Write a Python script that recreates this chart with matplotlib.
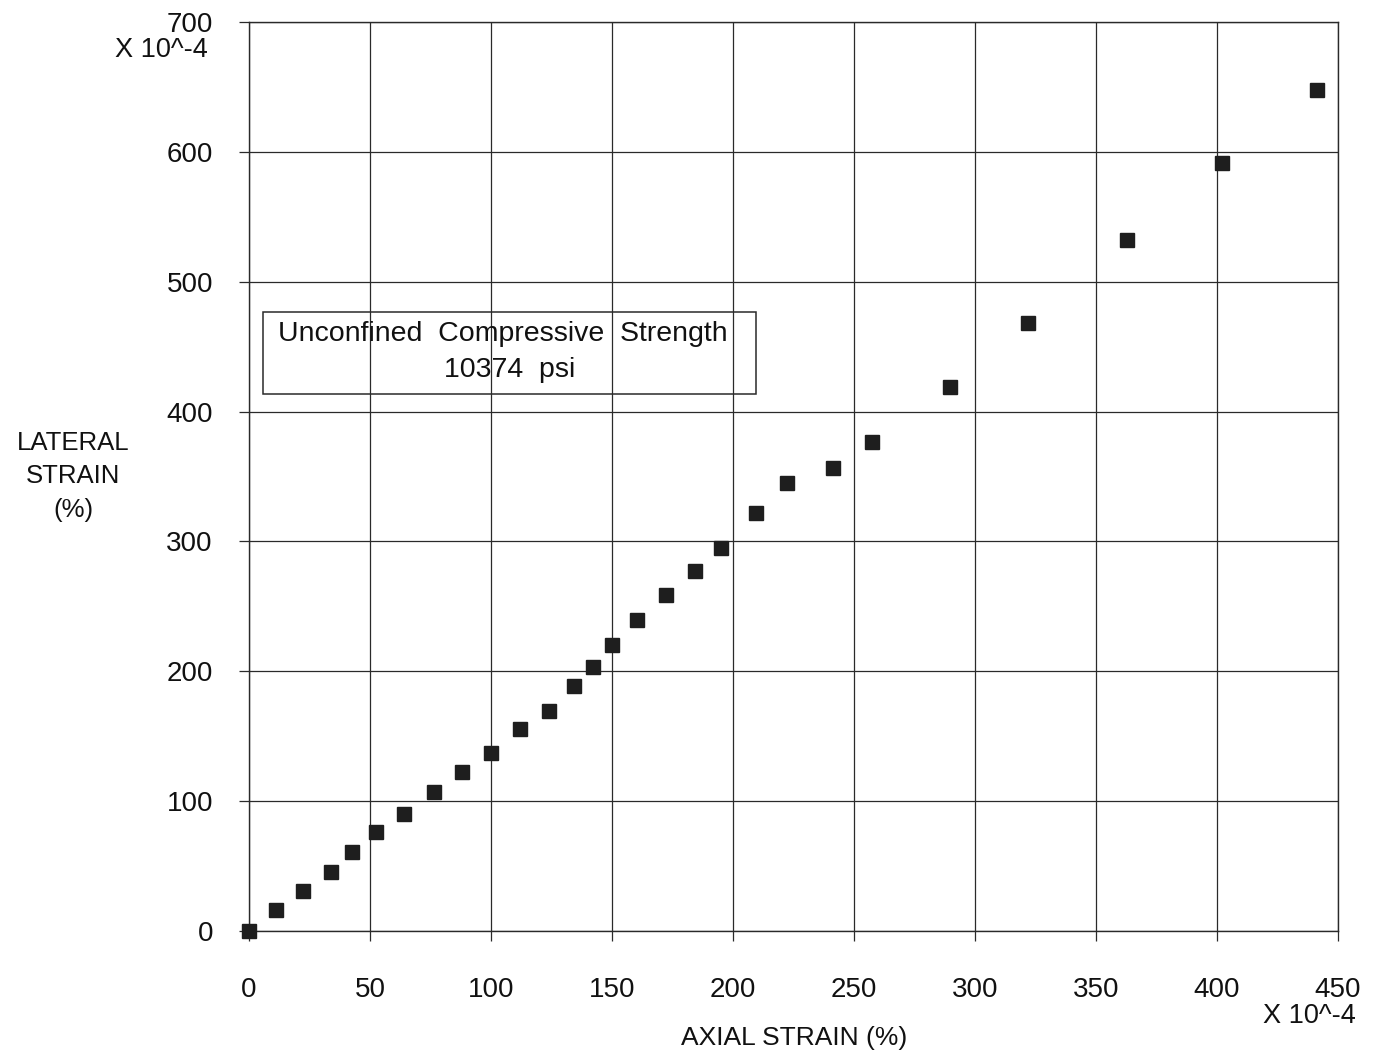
import matplotlib
matplotlib.use("Agg")
import matplotlib.pyplot as plt
from matplotlib.patches import Rectangle

plt.rcParams['font.family'] = ['Liberation Sans', 'DejaVu Sans']

# Axial and lateral strain readings (x 10^-4)
axial_strain = [0, 11.1, 22.4, 33.7, 42.7, 52.6, 63.9, 76.3, 88.1, 100.0,
                112.1, 124.1, 134.2, 142.2, 150.2, 160.2, 172.2, 184.3, 195.1,
                209.5, 222.5, 241.5, 257.6, 289.7, 321.9, 362.8, 402.1, 441.3]
lateral_strain = [0, 16.4, 30.5, 45.4, 60.5, 76.2, 89.8, 106.9, 122.1, 136.9,
                  155.2, 169.2, 188.8, 203.6, 220.3, 239.8, 259.0, 276.9, 294.9,
                  322.1, 344.9, 356.7, 376.2, 419.0, 468.5, 532.5, 591.5, 647.5]

x_ticks = [0, 50, 100, 150, 200, 250, 300, 350, 400, 450]
y_ticks = [0, 100, 200, 300, 400, 500, 600, 700]
ucs_line1 = "Unconfined  Compressive  Strength"
ucs_line2 = "10374  psi"

W, H = 1382, 1057
fig = plt.figure(figsize=(W / 100, H / 100), dpi=100)
ax = fig.add_axes([249 / W, 1 - 931 / H, (1338 - 249) / W, (931 - 22) / H])

ax.plot(axial_strain, lateral_strain, linestyle='none', marker='s',
        markersize=10, color='#1e1e1e', clip_on=False, zorder=5)

ax.set_xlim(0, 450)
ax.set_ylim(0, 700)
ax.set_xticks(x_ticks)
ax.set_yticks(y_ticks)
ax.set_xticklabels([str(v) for v in x_ticks])
ax.set_yticklabels([str(v) for v in y_ticks])
ax.grid(True, color='#2a2a2a', linewidth=0.9)
ax.set_axisbelow(True)
for s in ax.spines.values():
    s.set_color('#2a2a2a')
    s.set_linewidth(1.0)
ax.tick_params(axis='both', direction='out', length=7, width=0.9,
               color='#2a2a2a', labelsize=20, labelcolor='#111111')
ax.tick_params(axis='x', pad=26)
ax.tick_params(axis='y', pad=19)

# Strength annotation box
ax.add_patch(Rectangle((5.8, 413.7), 203.9, 63.2, fill=False,
                       edgecolor='#2a2a2a', linewidth=1.1, zorder=4))
ax.text(104.9, 459.5, ucs_line1, ha='center', va='center', fontsize=20.5,
        color='#111111', zorder=6)
ax.text(107.6, 432, ucs_line2, ha='center', va='center', fontsize=20.5,
        color='#111111', zorder=6)

# Axis titles and multipliers
fig.text(73 / W, 1 - 476 / H, "LATERAL\nSTRAIN\n(%)", ha='center', va='center',
         fontsize=18.5, linespacing=1.5, color='#111111')
fig.text(208 / W, 1 - 50 / H, "X 10^-4", ha='right', va='center',
         fontsize=19.5, color='#111111')
fig.text(1356 / W, 1 - 1016 / H, "X 10^-4", ha='right', va='center',
         fontsize=19.5, color='#111111')
fig.text(794 / W, 1 - 1038 / H, "AXIAL STRAIN (%)", ha='center', va='center',
         fontsize=19, color='#111111')

fig.savefig("out.png", dpi=100, facecolor='white')
